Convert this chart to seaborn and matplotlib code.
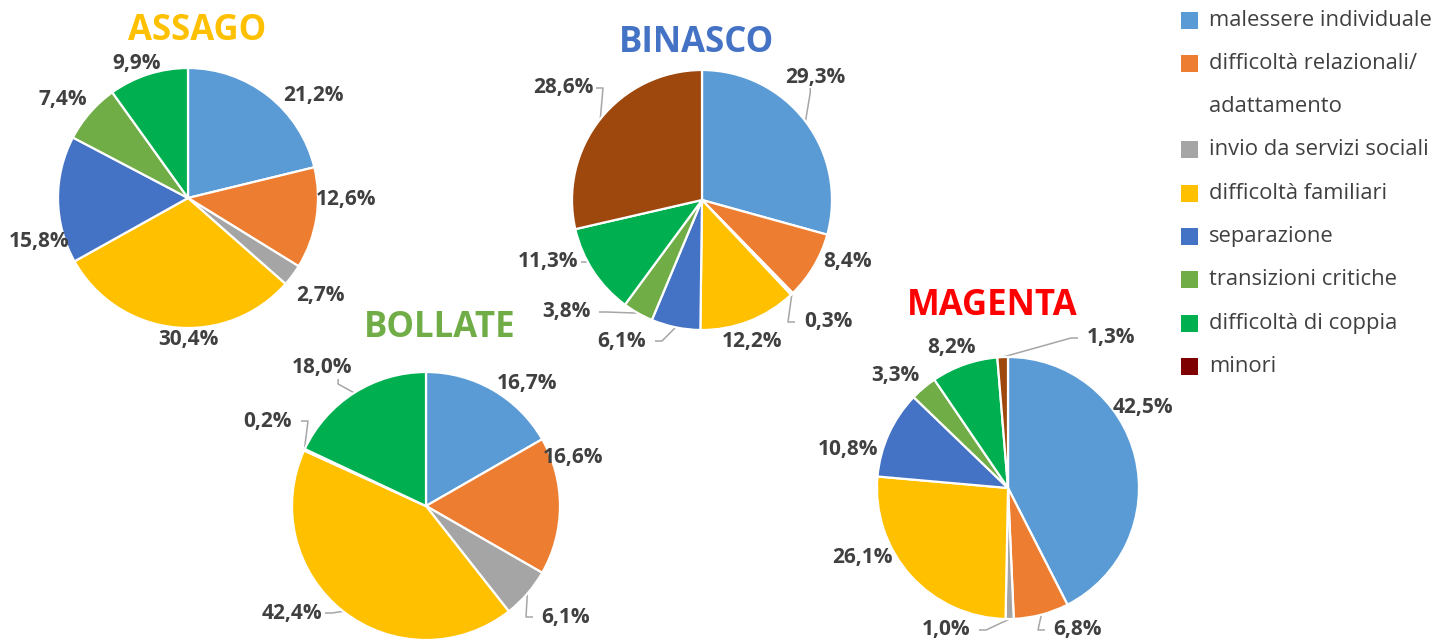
import math
import matplotlib
matplotlib.use("Agg")
import matplotlib.pyplot as plt
import seaborn as sns
from matplotlib.patches import Rectangle

# ---------------- data ----------------
categories = ["malessere individuale", "difficoltà relazionali/\nadattamento",
              "invio da servizi sociali", "difficoltà familiari", "separazione",
              "transizioni critiche", "difficoltà di coppia", "minori"]
towns = ["ASSAGO", "BINASCO", "BOLLATE", "MAGENTA"]
assago = [21.2, 12.6, 2.7, 30.4, 15.8, 7.4, 9.9, 0.0]
binasco = [29.3, 8.4, 0.3, 12.2, 6.1, 3.8, 11.3, 28.6]
bollate = [16.7, 16.6, 6.1, 42.4, 0.2, 0.0, 18.0, 0.0]
magenta = [42.5, 6.8, 1.0, 26.1, 10.8, 3.3, 8.2, 1.3]
town_values = [assago, binasco, bollate, magenta]

# ---------------- style ----------------
slice_colors = sns.color_palette(["#5B9BD5", "#ED7D31", "#A5A5A5", "#FFC000",
                                  "#4472C4", "#70AD47", "#00B050", "#9E480E"])
legend_colors = ["#5B9BD5", "#ED7D31", "#A5A5A5", "#FFC000",
                 "#4472C4", "#70AD47", "#00B050", "#7F0000"]
title_colors = ["#FFC000", "#4472C4", "#70AD47", "#FF0000"]
text_color = "#404040"
leader_color = "#A6A6A6"

W, H = 1440, 640
# layout in pixel coordinates (y measured from the top)
layout = {
    "ASSAGO": dict(center=(188, 198), r=130, title=(197, 31),
                   labels=[(313, 96), (346, 200), (320, 295), (188, 340),
                           (39, 242), (63, 100), (137, 63), None],
                   leaders=[0, 0, 0, 0, 0, 0, 0, 0]),
    "BINASCO": dict(center=(702, 200), r=130, title=(697, 43),
                    labels=[(815, 77), (848, 262), (828, 322), (752, 341),
                            (622, 341), (566, 312), (548, 262), (563, 88)],
                    leaders=[1, 0, 1, 0, 1, 1, 1, 1]),
    "BOLLATE": dict(center=(426, 506), r=134, title=(440, 328),
                    labels=[(527, 383), (573, 457), (566, 617), (292, 613),
                            (268, 421), None, (322, 368), None],
                    leaders=[0, 0, 1, 1, 1, 0, 1, 0]),
    "MAGENTA": dict(center=(1008, 488), r=131, title=(992, 306),
                    labels=[(1143, 408), (1078, 630), (946, 630), (862, 558),
                            (848, 450), (895, 375), (951, 347), (1111, 338)],
                    leaders=[0, 1, 1, 0, 0, 0, 0, 1]),
}

sns.set_theme(style="white")
plt.rcParams["font.family"] = ["Open Sans", "DejaVu Sans"]

fig = plt.figure(figsize=(W / 100, H / 100), dpi=100)
ax = fig.add_axes([0, 0, 1, 1])


def fy(y):
    return H - y


LBL_HW, LBL_HH = 30, 8

for town, vals, tcol in zip(towns, town_values, title_colors):
    lay = layout[town]
    cx, cy = lay["center"]
    keep = [i for i, v in enumerate(vals) if v > 0]
    wedges, _ = ax.pie([vals[i] for i in keep],
                       colors=[slice_colors[i] for i in keep],
                       startangle=90, counterclock=False,
                       center=(cx, fy(cy)), radius=lay["r"],
                       wedgeprops=dict(edgecolor="white", linewidth=1.6),
                       frame=True)
    for w, i in zip(wedges, keep):
        pos = lay["labels"][i]
        if pos is None:
            continue
        lx, ly = pos[0], fy(pos[1])
        txt = f"{vals[i]:.1f}%".replace(".", ",")
        ax.text(lx, ly, txt, ha="center", va="center", fontsize=15,
                fontweight="bold", color=text_color)
        if lay["leaders"][i]:
            mid = math.radians((w.theta1 + w.theta2) / 2)
            ex = cx + lay["r"] * math.cos(mid)
            ey = fy(cy) + lay["r"] * math.sin(mid)
            if abs(ex - lx) > LBL_HW + 4:
                sx = 1 if ex > lx else -1
                px, py = lx + sx * (LBL_HW + 3), ly
                qx, qy = px + sx * 7, py
            else:
                sy = 1 if ey > ly else -1
                px, py = lx + (ex - lx) * 0.5, ly + sy * (LBL_HH + 3)
                qx, qy = px, py + sy * 5
            ax.plot([ex, qx, px], [ey, qy, py], color=leader_color, lw=1.1,
                    solid_capstyle="butt", zorder=0.5)
    tx, ty = lay["title"]
    ax.text(tx, fy(ty), town, ha="center", va="center", fontsize=25,
            fontweight="bold", color=tcol)

# legend drawn manually (first row of a wrapped label carries the swatch)
row_y, step = 20, 43.3
k = 0
for cat, col in zip(categories, legend_colors):
    y = row_y + step * k
    ax.add_patch(Rectangle((1181, fy(y) - 8.5), 17, 17, facecolor=col,
                           edgecolor="none"))
    for j, line in enumerate(cat.split("\n")):
        ax.text(1209, fy(y + step * j), line, ha="left", va="center",
                fontsize=15.8, color=text_color)
    k += len(cat.split("\n"))

ax.set_xlim(0, W)
ax.set_ylim(0, H)
ax.set_aspect("auto")
ax.axis("off")
fig.savefig("out.png", dpi=100, facecolor="white")
